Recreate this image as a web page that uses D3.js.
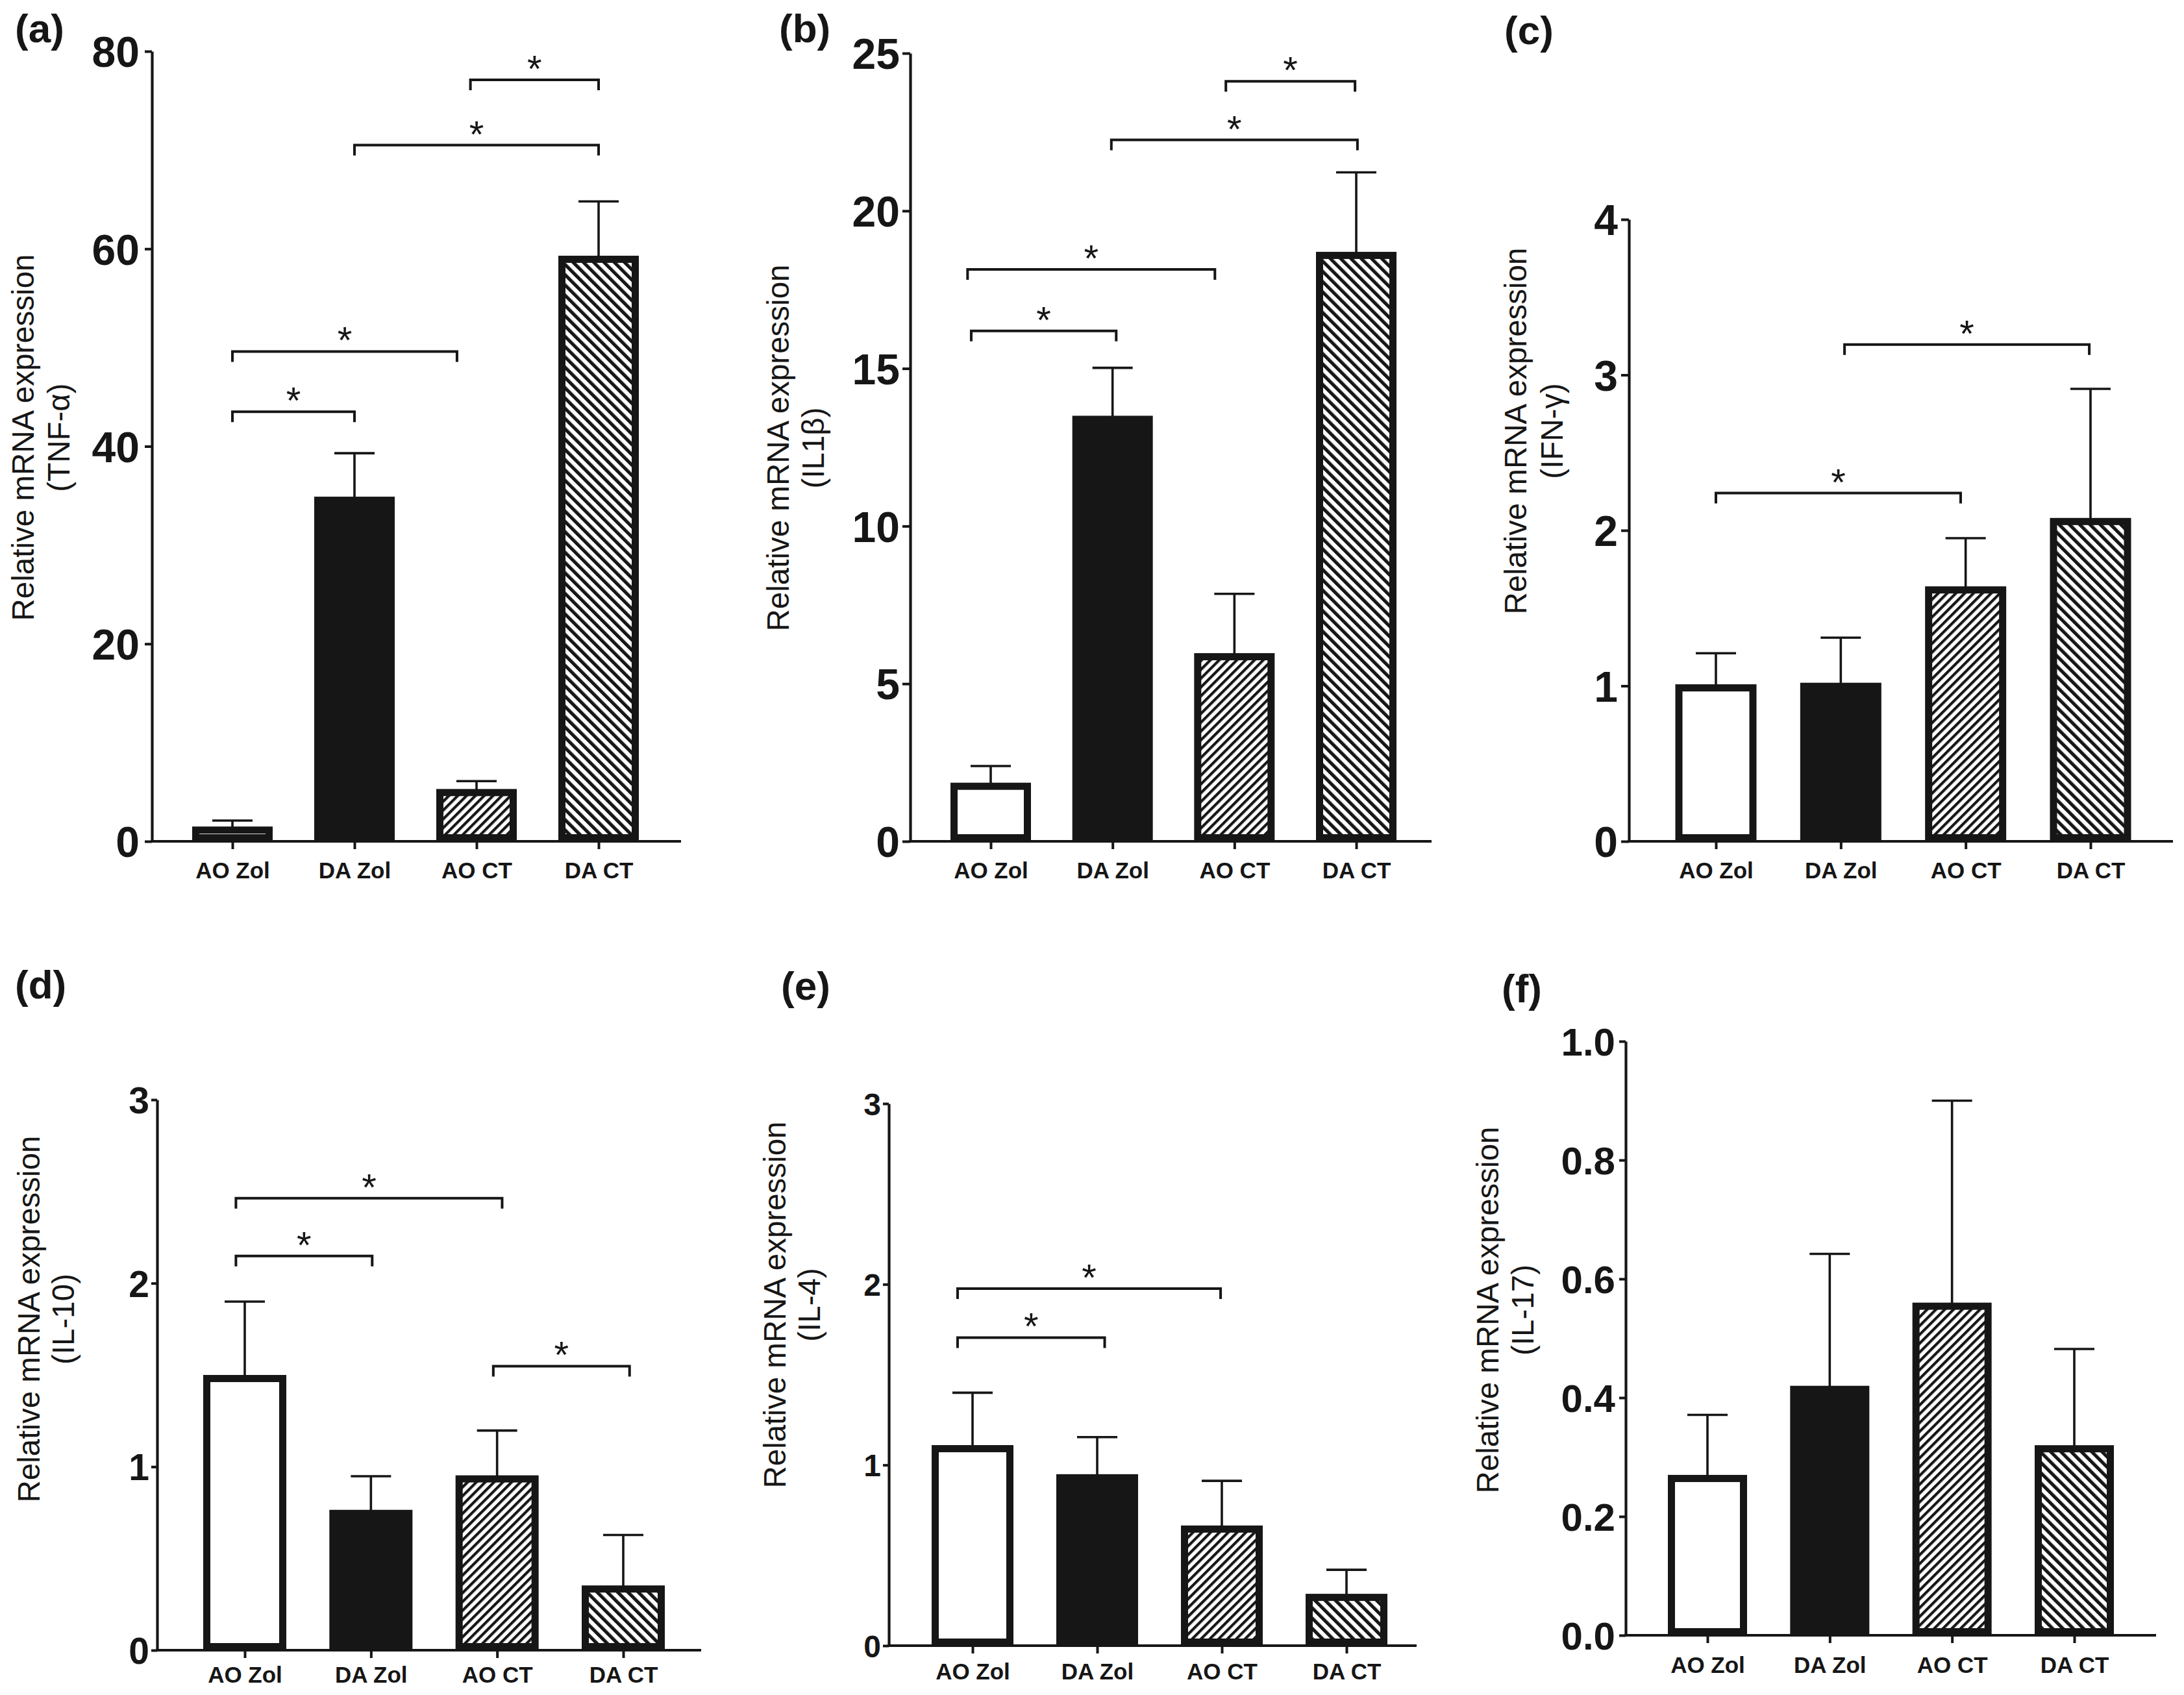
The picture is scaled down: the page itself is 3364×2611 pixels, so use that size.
<!DOCTYPE html>
<html><head><meta charset="utf-8">
<script src="https://cdn.jsdelivr.net/npm/d3@7"></script>
<style>body{margin:0;background:#fff}svg{display:block}</style>
</head><body><svg id="chart" width="3364" height="2611"></svg>
<script>
// ---------------- data ----------------
const categories = ["AO Zol", "DA Zol", "AO CT", "DA CT"];
const fillKinds  = ["open", "solid", "hatchUp", "hatchDown"];

// (a) TNF-α
const tnfMean  = [1.5, 34.9, 5.3, 59.3];
const tnfUpper = [2.1, 39.3, 6.1, 64.8];
const tnfTicks = [0, 20, 40, 60, 80];
const tnfBrackets = [[0, 1, 43.5], [0, 1.84, 49.6], [1, 3, 70.5], [1.95, 3, 77.1]];

// (b) IL1β
const il1bMean  = [1.86, 13.5, 5.97, 18.7];
const il1bUpper = [2.39, 15.02, 7.85, 21.22];
const il1bTicks = [0, 5, 10, 15, 20, 25];
const il1bBrackets = [[-0.16, 1.03, 16.19], [-0.19, 1.84, 18.14], [0.99, 3.01, 22.25], [1.93, 2.99, 24.11]];

// (c) IFN-γ
const ifngMean  = [1.01, 1.02, 1.64, 2.08];
const ifngUpper = [1.21, 1.31, 1.95, 2.91];
const ifngTicks = [0, 1, 2, 3, 4];
const ifngBrackets = [[0, 1.96, 2.24], [1.03, 2.99, 3.195]];

// (d) IL-10
const il10Mean  = [1.5, 0.765, 0.953, 0.353];
const il10Upper = [1.9, 0.948, 1.197, 0.628];
const il10Ticks = [0, 1, 2, 3];
const il10Brackets = [[-0.07, 1.01, 2.148], [-0.07, 2.04, 2.463], [1.97, 3.05, 1.548]];

// (e) IL-4
const il4Mean  = [1.11, 0.949, 0.665, 0.287];
const il4Upper = [1.40, 1.154, 0.912, 0.42];
const il4Ticks = [0, 1, 2, 3];
const il4Brackets = [[-0.12, 1.06, 1.705], [-0.12, 1.99, 1.976]];

// (f) IL-17
const il17Mean  = [0.27, 0.42, 0.56, 0.32];
const il17Upper = [0.371, 0.642, 0.90, 0.482];
const il17Ticks = [0, 0.2, 0.4, 0.6, 0.8, 1.0];
const il17Brackets = [];

const yTitle = "Relative mRNA expression";

// ---------------- layout ----------------
const panels = [
  {tag: "(a)", gene: "(TNF-α)", mean: tnfMean, upper: tnfUpper, ticks: tnfTicks, brackets: tnfBrackets, fmt: "d",
   L: {axisX: 234, yTop: 79, y0: 1296, xEnd: 1049, c0: 358, c3: 922, barW: 124, tickFont: 66, tickSize: 11, tickPad: 8,
       tagX: 23, tagY: 65, labX1: 35, labX2: 90, labY: 674, xlabOff: 57}},
  {tag: "(b)", gene: "(IL1β)", mean: il1bMean, upper: il1bUpper, ticks: il1bTicks, brackets: il1bBrackets, fmt: "d",
   L: {axisX: 1402, yTop: 82, y0: 1296, xEnd: 2205, c0: 1526, c3: 2089, barW: 124, tickFont: 66, tickSize: 12, tickPad: 4,
       tagX: 1200, tagY: 65, labX1: 1198, labX2: 1252, labY: 690, xlabOff: 57}},
  {tag: "(c)", gene: "(IFN-γ)", mean: ifngMean, upper: ifngUpper, ticks: ifngTicks, brackets: ifngBrackets, fmt: "d",
   L: {axisX: 2509, yTop: 338, y0: 1296, xEnd: 3347, c0: 2643, c3: 3220, barW: 125, tickFont: 66, tickSize: 12, tickPad: 5,
       tagX: 2317, tagY: 68, labX1: 2334, labX2: 2390, labY: 664, xlabOff: 57}},
  {tag: "(d)", gene: "(IL-10)", mean: il10Mean, upper: il10Upper, ticks: il10Ticks, brackets: il10Brackets, fmt: "d",
   L: {axisX: 242, yTop: 1694, y0: 2542, xEnd: 1080, c0: 377, c3: 960, barW: 128, tickFont: 57, tickSize: 9, tickPad: 3,
       tagX: 23, tagY: 1538, labX1: 44, labX2: 97, labY: 2032, xlabOff: 50}},
  {tag: "(e)", gene: "(IL-4)", mean: il4Mean, upper: il4Upper, ticks: il4Ticks, brackets: il4Brackets, fmt: "d",
   L: {axisX: 1369, yTop: 1700, y0: 2535, xEnd: 2182, c0: 1498, c3: 2074, barW: 126, tickFont: 48, tickSize: 9, tickPad: 3,
       tagX: 1203, tagY: 1540, labX1: 1193, labX2: 1246, labY: 2010, xlabOff: 52}},
  {tag: "(f)", gene: "(IL-17)", mean: il17Mean, upper: il17Upper, ticks: il17Ticks, brackets: il17Brackets, fmt: ".1f",
   L: {axisX: 2504, yTop: 1604, y0: 2519, xEnd: 3321, c0: 2630, c3: 3195, barW: 122, tickFont: 60, tickSize: 10, tickPad: 6,
       tagX: 2313, tagY: 1544, labX1: 2291, labX2: 2345, labY: 2018, xlabOff: 58}}
];

const INK = "#161616";
const FONT = "'Liberation Sans', Arial, Helvetica, sans-serif";
const BAR_SW = 11;

const svg = d3.select("#chart").style("font-family", FONT);
svg.append("rect").attr("width", 3364).attr("height", 2611).attr("fill", "#fff");

// hatch patterns
const defs = svg.append("defs");
function hatch(id, period, angle, frac) {
  const p = defs.append("pattern").attr("id", id).attr("patternUnits", "userSpaceOnUse")
    .attr("width", period).attr("height", period).attr("patternTransform", `rotate(${angle})`);
  p.append("rect").attr("width", period).attr("height", period).attr("fill", "#fff");
  p.append("rect").attr("width", period * frac).attr("height", period).attr("fill", INK);
}
hatch("hatchUp", 9.6, 45, 0.44);
hatch("hatchDown", 11.2, -45, 0.46);
const fillFor = {open: "#fff", solid: INK, hatchUp: "url(#hatchUp)", hatchDown: "url(#hatchDown)"};

panels.forEach(P => {
  const L = P.L;
  const g = svg.append("g");
  const yMax = P.ticks[P.ticks.length - 1];
  const y = d3.scaleLinear().domain([0, yMax]).range([L.y0, L.yTop]);
  const x = d3.scalePoint().domain(categories).range([L.c0, L.c3]);
  const xi = d3.scaleLinear().domain([0, categories.length - 1]).range([L.c0, L.c3]);

  const rows = categories.map((c, i) => ({cat: c, mean: P.mean[i], upper: P.upper[i], kind: fillKinds[i]}));

  // error bars (upper only)
  const eb = g.append("g").attr("stroke", INK).attr("stroke-width", 3.6).attr("fill", "none");
  eb.selectAll("line.v").data(rows).join("line")
    .attr("x1", d => x(d.cat)).attr("x2", d => x(d.cat))
    .attr("y1", d => y(d.mean) + BAR_SW / 2).attr("y2", d => y(d.upper));
  eb.selectAll("line.h").data(rows).join("line")
    .attr("x1", d => x(d.cat) - 31).attr("x2", d => x(d.cat) + 31)
    .attr("y1", d => y(d.upper)).attr("y2", d => y(d.upper));

  // bars
  g.append("g").selectAll("rect").data(rows).join("rect")
    .attr("x", d => x(d.cat) - L.barW / 2 + BAR_SW / 2)
    .attr("width", L.barW - BAR_SW)
    .attr("y", d => y(d.mean) + BAR_SW / 2)
    .attr("height", d => Math.max(0, y(0) - y(d.mean) - BAR_SW))
    .attr("fill", d => fillFor[d.kind])
    .attr("stroke", INK).attr("stroke-width", BAR_SW);

  // y axis
  const yAxis = g.append("g").attr("transform", `translate(${L.axisX},0)`)
    .call(d3.axisLeft(y).tickValues(P.ticks).tickFormat(d3.format(P.fmt))
      .tickSize(L.tickSize).tickSizeOuter(0).tickPadding(L.tickPad));
  yAxis.select(".domain").attr("stroke", INK).attr("stroke-width", 4.2);
  yAxis.selectAll(".tick line").attr("stroke", INK).attr("stroke-width", 4);
  yAxis.selectAll(".tick text").attr("fill", INK).attr("font-family", FONT)
    .attr("font-size", L.tickFont).attr("font-weight", "bold").attr("dy", "0.36em");

  // x axis line
  g.append("line").attr("x1", L.axisX - 2).attr("x2", L.xEnd).attr("y1", L.y0).attr("y2", L.y0)
    .attr("stroke", INK).attr("stroke-width", 4.2);
  const xAxis = g.append("g").attr("transform", `translate(0,${L.y0})`)
    .call(d3.axisBottom(x).tickSize(12).tickPadding(0));
  xAxis.select(".domain").remove();
  xAxis.selectAll(".tick line").attr("stroke", INK).attr("stroke-width", 4);
  xAxis.selectAll(".tick text").attr("fill", INK).attr("font-family", FONT)
    .attr("font-size", 35).attr("font-weight", "bold")
    .attr("y", L.xlabOff).attr("dy", 0);

  // significance brackets
  const bg = g.append("g");
  P.brackets.forEach(([a, b, v]) => {
    const xa = xi(a), xb = xi(b), yy = y(v);
    bg.append("path")
      .attr("d", `M${xa},${yy + 16}V${yy}H${xb}V${yy + 16}`)
      .attr("fill", "none").attr("stroke", INK).attr("stroke-width", 4);
    bg.append("text").attr("x", (xa + xb) / 2).attr("y", yy + 3)
      .attr("text-anchor", "middle").attr("font-size", 58).attr("fill", INK).text("*");
  });

  // y title
  g.append("text").attr("transform", `translate(${L.labX1},${L.labY}) rotate(-90)`)
    .attr("text-anchor", "middle").attr("dy", "0.35em").attr("font-size", 47.5).attr("fill", INK).text(yTitle);
  g.append("text").attr("transform", `translate(${L.labX2},${L.labY}) rotate(-90)`)
    .attr("text-anchor", "middle").attr("dy", "0.35em").attr("font-size", 47.5).attr("fill", INK).text(P.gene);

  // panel tag
  g.append("text").attr("x", L.tagX).attr("y", L.tagY).attr("font-size", 62).attr("font-weight", "bold")
    .attr("fill", INK).text(P.tag);
});
</script></body></html>
